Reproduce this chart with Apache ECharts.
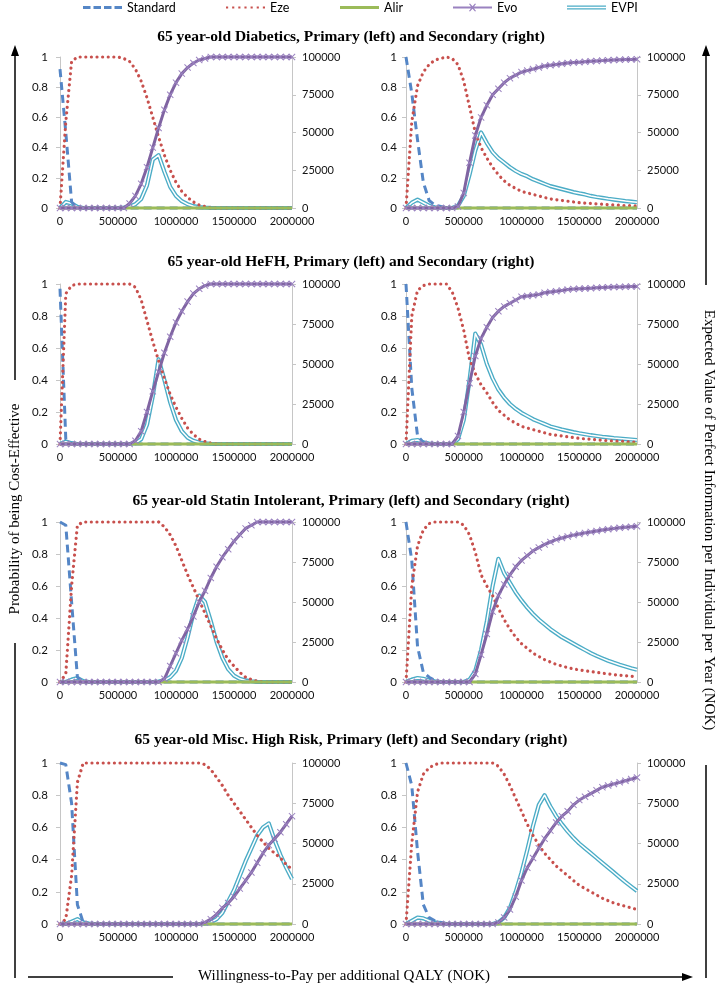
<!DOCTYPE html>
<html>
<head>
<meta charset="utf-8">
<script src="https://cdn.jsdelivr.net/npm/echarts@6/dist/echarts.min.js"></script>
<style>
html,body{margin:0;padding:0;background:#ffffff;}
#c{width:720px;height:989px;}
</style>
</head>
<body>
<div id="c"></div>
<script>
// ---------- shared axes / labels ----------
const wtp = [0,50000,100000,150000,200000,250000,300000,350000,400000,450000,
  500000,550000,600000,650000,700000,750000,800000,850000,900000,950000,
  1000000,1050000,1100000,1150000,1200000,1250000,1300000,1350000,1400000,1450000,
  1500000,1550000,1600000,1650000,1700000,1750000,1800000,1850000,1900000,1950000,
  2000000];
const xTicks = [0, 500000, 1000000, 1500000, 2000000];
const probTicks = [0, 0.2, 0.4, 0.6, 0.8, 1];
const evpiTicks = [0, 25000, 50000, 75000, 100000];
const seriesNames = ['Standard', 'Eze', 'Alir', 'Evo', 'EVPI'];
const rowTitles = [
  '65 year-old Diabetics, Primary (left) and Secondary (right)',
  '65 year-old HeFH, Primary (left) and Secondary (right)',
  '65 year-old Statin Intolerant, Primary (left) and Secondary (right)',
  '65 year-old Misc. High Risk, Primary (left) and Secondary (right)'
];
const xTitle = 'Willingness-to-Pay per additional QALY (NOK)';
const yLeftTitle = 'Probability of being Cost-Effective';
const yRightTitle = 'Expected Value of Perfect Information per Individual per Year (NOK)';

// Alir is 0 at every WTP in all panels
const alirValues = [0,0,0,0,0,0,0,0,0,0, 0,0,0,0,0,0,0,0,0,0, 0,0,0,0,0,0,0,0,0,0, 0,0,0,0,0,0,0,0,0,0, 0];

// ---------- Diabetics, primary ----------
const diabPrimStandard = [0.92,0.5,0.04,0,0,0,0,0,0,0, 0,0,0,0,0,0,0,0,0,0, 0,0,0,0,0,0,0,0,0,0, 0,0,0,0,0,0,0,0,0,0, 0];
const diabPrimEze = [0,0.57,0.97,1,1,1,1,1,1,1, 1,0.99,0.97,0.92,0.84,0.73,0.6,0.47,0.35,0.25, 0.17,0.11,0.07,0.04,0.02,0.01,0,0,0,0, 0,0,0,0,0,0,0,0,0,0, 0];
const diabPrimEvo = [0,0,0,0,0,0,0,0,0,0, 0,0,0.03,0.08,0.16,0.27,0.4,0.53,0.65,0.75, 0.83,0.89,0.93,0.96,0.98,0.99,1,1,1,1, 1,1,1,1,1,1,1,1,1,1, 1];
const diabPrimEVPI = [0,4000,3000,800,0,0,0,0,0,0, 0,200,800,2500,6000,15000,32000,35000,24000,14000, 8000,4500,2500,1200,600,300,100,0,0,0, 0,0,0,0,0,0,0,0,0,0, 0];

// ---------- Diabetics, secondary ----------
const diabSecStandard = [1,0.76,0.45,0.17,0.05,0.02,0.01,0,0,0, 0,0,0,0,0,0,0,0,0,0, 0,0,0,0,0,0,0,0,0,0, 0,0,0,0,0,0,0,0,0,0, 0];
const diabSecEze = [0,0.57,0.81,0.9,0.95,0.98,0.99,1,0.99,0.95, 0.84,0.67,0.5,0.4,0.33,0.27,0.22,0.18,0.15,0.13, 0.11,0.1,0.09,0.08,0.07,0.06,0.055,0.05,0.045,0.04, 0.035,0.032,0.03,0.027,0.025,0.022,0.02,0.018,0.016,0.015, 0.014];
const diabSecEvo = [0,0,0,0,0,0,0,0,0,0.01, 0.1,0.3,0.48,0.6,0.68,0.75,0.79,0.83,0.86,0.88, 0.9,0.91,0.92,0.93,0.94,0.945,0.95,0.955,0.96,0.963, 0.966,0.969,0.972,0.974,0.976,0.978,0.98,0.982,0.983,0.984, 0.985];
const diabSecEVPI = [0,3500,5500,3500,1500,500,200,0,0,1500, 8000,22000,38000,50000,43000,37000,33000,30000,27000,24500, 22500,21000,19000,17500,16000,14500,13500,12500,11500,10500, 9700,9000,8000,7300,6700,6100,5600,5100,4600,4200, 3800];

// ---------- HeFH, primary ----------
const hefhPrimStandard = [0.97,0.03,0,0,0,0,0,0,0,0, 0,0,0,0,0,0,0,0,0,0, 0,0,0,0,0,0,0,0,0,0, 0,0,0,0,0,0,0,0,0,0, 0];
const hefhPrimEze = [0,0.94,0.99,1,1,1,1,1,1,1, 1,1,1,0.98,0.9,0.77,0.64,0.52,0.41,0.31, 0.23,0.16,0.1,0.06,0.03,0.015,0.005,0,0,0, 0,0,0,0,0,0,0,0,0,0, 0];
const hefhPrimEvo = [0,0,0,0,0,0,0,0,0,0, 0,0,0,0.02,0.08,0.2,0.33,0.45,0.57,0.67, 0.76,0.83,0.89,0.94,0.97,0.99,1,1,1,1, 1,1,1,1,1,1,1,1,1,1, 1];
const hefhPrimEVPI = [0,1500,500,0,0,0,0,0,0,0, 0,0,0,500,3000,12000,30000,53000,40000,26000, 15000,8000,4000,2000,900,400,100,0,0,0, 0,0,0,0,0,0,0,0,0,0, 0];

// ---------- HeFH, secondary ----------
const hefhSecStandard = [1,0.35,0.05,0.01,0,0,0,0,0,0, 0,0,0,0,0,0,0,0,0,0, 0,0,0,0,0,0,0,0,0,0, 0,0,0,0,0,0,0,0,0,0, 0];
const hefhSecEze = [0,0.8,0.96,0.99,1,1,1,1,0.95,0.85, 0.71,0.53,0.44,0.37,0.32,0.26,0.21,0.18,0.15,0.13, 0.11,0.1,0.09,0.08,0.07,0.06,0.055,0.05,0.045,0.04, 0.035,0.032,0.029,0.026,0.023,0.021,0.019,0.017,0.015,0.013, 0.012];
const hefhSecEvo = [0,0,0,0,0,0,0,0,0,0.05, 0.2,0.38,0.55,0.66,0.73,0.79,0.83,0.86,0.88,0.9, 0.92,0.925,0.93,0.935,0.945,0.95,0.955,0.96,0.965,0.968, 0.97,0.972,0.974,0.976,0.978,0.98,0.981,0.982,0.983,0.984, 0.985];
const hefhSecEVPI = [0,2000,2500,1000,300,0,0,0,0,3000, 15000,40000,69000,62000,50000,41000,34000,29000,25000,22000, 19500,17500,15500,14000,12500,11000,10000,9000,8200,7400, 6700,6100,5500,5000,4500,4100,3700,3400,3100,2800, 2500];

// ---------- Statin Intolerant, primary ----------
const statPrimStandard = [1,0.98,0.5,0.03,0,0,0,0,0,0, 0,0,0,0,0,0,0,0,0,0, 0,0,0,0,0,0,0,0,0,0, 0,0,0,0,0,0,0,0,0,0, 0];
const statPrimEze = [0,0.05,0.6,0.98,1,1,1,1,1,1, 1,1,1,1,1,1,1,1,0.97,0.92, 0.85,0.76,0.67,0.59,0.51,0.43,0.35,0.27,0.2,0.14, 0.1,0.06,0.03,0.015,0.005,0,0,0,0,0, 0];
const statPrimEvo = [0,0,0,0,0,0,0,0,0,0, 0,0,0,0,0,0,0,0,0.02,0.1, 0.18,0.26,0.33,0.41,0.5,0.57,0.65,0.72,0.78,0.83, 0.88,0.92,0.96,0.98,1,1,1,1,1,1, 1];
const statPrimEVPI = [0,0,1500,2500,500,0,0,0,0,0, 0,0,0,0,0,0,0,300,1000,3000, 7000,15000,28000,43000,54000,50000,38000,25000,15000,8000, 4000,2000,1000,400,100,0,0,0,0,0, 0];

// ---------- Statin Intolerant, secondary ----------
const statSecStandard = [1,0.76,0.22,0.06,0.03,0.01,0,0,0,0, 0,0,0,0,0,0,0,0,0,0, 0,0,0,0,0,0,0,0,0,0, 0,0,0,0,0,0,0,0,0,0, 0];
const statSecEze = [0,0.6,0.85,0.95,0.99,1,1,1,1,1, 0.98,0.92,0.81,0.67,0.6,0.54,0.46,0.39,0.33,0.28, 0.24,0.21,0.18,0.16,0.14,0.125,0.11,0.1,0.09,0.082, 0.075,0.07,0.065,0.06,0.055,0.05,0.046,0.042,0.039,0.036, 0.033];
const statSecEvo = [0,0,0,0,0,0,0,0,0,0, 0,0,0.05,0.17,0.3,0.44,0.54,0.61,0.67,0.72, 0.76,0.79,0.82,0.84,0.86,0.875,0.89,0.9,0.91,0.918, 0.925,0.932,0.938,0.944,0.95,0.955,0.96,0.964,0.967,0.97, 0.973];
const statSecEVPI = [0,1500,2500,2000,1000,400,0,0,0,0, 0,1500,7000,20000,38000,60000,77000,68000,62000,56000, 51000,46500,42500,39000,36000,33000,30500,28000,26000,24000, 22000,20000,18000,16300,14800,13300,12000,10800,9700,8600, 7600];

// ---------- Misc. High Risk, primary ----------
const miscPrimStandard = [1,0.99,0.75,0.12,0.01,0,0,0,0,0, 0,0,0,0,0,0,0,0,0,0, 0,0,0,0,0,0,0,0,0,0, 0,0,0,0,0,0,0,0,0,0, 0];
const miscPrimEze = [0,0.03,0.3,0.88,1,1,1,1,1,1, 1,1,1,1,1,1,1,1,1,1, 1,1,1,1,1,0.99,0.96,0.91,0.86,0.8, 0.75,0.7,0.65,0.6,0.55,0.51,0.47,0.44,0.41,0.37, 0.34];
const miscPrimEvo = [0,0,0,0,0,0,0,0,0,0, 0,0,0,0,0,0,0,0,0,0, 0,0,0,0,0,0.01,0.03,0.06,0.1,0.13, 0.17,0.22,0.27,0.32,0.38,0.44,0.49,0.53,0.57,0.62, 0.67];
const miscPrimEVPI = [0,0,1500,3000,1000,300,0,0,0,0, 0,0,0,0,0,0,0,0,0,0, 0,0,0,0,0,300,1000,3000,7000,14000, 21000,30000,39000,47000,55000,60000,62500,52000,43000,35000, 28000];

// ---------- Misc. High Risk, secondary ----------
const miscSecStandard = [1,0.86,0.45,0.12,0.04,0.02,0.01,0,0,0, 0,0,0,0,0,0,0,0,0,0, 0,0,0,0,0,0,0,0,0,0, 0,0,0,0,0,0,0,0,0,0, 0];
const miscSecEze = [0,0.5,0.82,0.93,0.97,0.99,1,1,1,1, 1,1,1,1,1,1,0.98,0.93,0.86,0.78, 0.7,0.62,0.55,0.49,0.44,0.4,0.36,0.33,0.3,0.27, 0.24,0.22,0.2,0.18,0.16,0.145,0.13,0.12,0.11,0.1, 0.09];
const miscSecEvo = [0,0,0,0,0,0,0,0,0,0, 0,0,0,0,0,0,0.01,0.04,0.09,0.17, 0.27,0.35,0.41,0.47,0.53,0.58,0.63,0.67,0.7,0.74, 0.77,0.79,0.81,0.83,0.85,0.86,0.87,0.88,0.89,0.9, 0.91];
const miscSecEVPI = [0,2000,4000,3500,2000,1000,500,0,0,0, 0,0,0,0,0,0,1000,4000,10000,20000, 32000,46000,61000,74000,80000,73000,67000,62000,57500,53500, 50000,47000,44000,41000,38000,35000,32000,29000,26000,23200, 20500];

// ---------- panel assembly ----------
const panels = [
  {row:0, col:0, std:diabPrimStandard, eze:diabPrimEze, alir:alirValues, evo:diabPrimEvo, evpi:diabPrimEVPI},
  {row:0, col:1, std:diabSecStandard, eze:diabSecEze, alir:alirValues, evo:diabSecEvo, evpi:diabSecEVPI},
  {row:1, col:0, std:hefhPrimStandard, eze:hefhPrimEze, alir:alirValues, evo:hefhPrimEvo, evpi:hefhPrimEVPI},
  {row:1, col:1, std:hefhSecStandard, eze:hefhSecEze, alir:alirValues, evo:hefhSecEvo, evpi:hefhSecEVPI},
  {row:2, col:0, std:statPrimStandard, eze:statPrimEze, alir:alirValues, evo:statPrimEvo, evpi:statPrimEVPI},
  {row:2, col:1, std:statSecStandard, eze:statSecEze, alir:alirValues, evo:statSecEvo, evpi:statSecEVPI},
  {row:3, col:0, std:miscPrimStandard, eze:miscPrimEze, alir:alirValues, evo:miscPrimEvo, evpi:miscPrimEVPI},
  {row:3, col:1, std:miscSecStandard, eze:miscSecEze, alir:alirValues, evo:miscSecEvo, evpi:miscSecEVPI}
];

const rowLayout = [{top:57,height:151},{top:284,height:160},{top:522,height:160},{top:763,height:161}];
const colLayout = [{left:60,width:232,lm:12},{left:406,width:231,lm:9}];
const titleY = [37, 262, 501, 740];

const COL = {std:'#5586c6', eze:'#c8504d', alir:'#9bbb59', evo:'#8064a2', evoMark:'#9a82c0', evpi:'#4bacc6'};
const AXC = '#c6c6c6';
const TF = 'Lato';
const XPATH = 'path://M0,1L1,0L5,4L9,0L10,1L6,5L10,9L9,10L5,6L1,10L0,9L4,5Z';

const toPairs = arr => arr.map((v, i) => [wtp[i], v]);
const plain = v => String(v);

const grid = [], xAxis = [], yAxis = [], series = [];
panels.forEach((p, k) => {
  const r = rowLayout[p.row], c = colLayout[p.col];
  grid.push({left:c.left, width:c.width, top:r.top, height:r.height, containLabel:false, show:false});
  xAxis.push({
    type:'value', gridIndex:k, min:xTicks[0], max:xTicks[xTicks.length-1], interval:xTicks[1]-xTicks[0],
    axisLine:{show:true, onZero:false, lineStyle:{color:AXC, width:1}},
    axisTick:{show:false}, splitLine:{show:false},
    axisLabel:{margin:8, color:'#111', fontFamily:TF, fontSize:11, formatter:plain}
  });
  yAxis.push({
    type:'value', gridIndex:k, position:'left', min:probTicks[0], max:probTicks[probTicks.length-1], interval:probTicks[1]-probTicks[0],
    axisLine:{show:true, onZero:false, lineStyle:{color:AXC, width:1}},
    axisTick:{show:true, inside:false, length:4, lineStyle:{color:AXC}},
    splitLine:{show:false},
    axisLabel:{margin:c.lm, color:'#111', fontFamily:TF, fontSize:11.5, formatter:plain}
  });
  yAxis.push({
    type:'value', gridIndex:k, position:'right', min:evpiTicks[0], max:evpiTicks[evpiTicks.length-1], interval:evpiTicks[1]-evpiTicks[0],
    axisLine:{show:true, onZero:false, lineStyle:{color:AXC, width:1}},
    axisTick:{show:true, inside:false, length:4, lineStyle:{color:AXC}},
    splitLine:{show:false},
    axisLabel:{margin:10, color:'#111', fontFamily:TF, fontSize:11, formatter:plain}
  });
  const base = {type:'line', xAxisIndex:k, clip:false, silent:true, animation:false, emphasis:{disabled:true}};
  series.push(Object.assign({}, base, {name:'EVPI', yAxisIndex:2*k+1, data:toPairs(p.evpi), symbol:'none',
    lineStyle:{color:COL.evpi, width:4.2, join:'round'}, itemStyle:{color:COL.evpi}, z:2}));
  series.push(Object.assign({}, base, {name:'EVPI-core', yAxisIndex:2*k+1, data:toPairs(p.evpi), symbol:'none',
    lineStyle:{color:'#ffffff', width:1.5, join:'round'}, itemStyle:{color:'#ffffff'}, z:2}));
  series.push(Object.assign({}, base, {name:'Standard', yAxisIndex:2*k, data:toPairs(p.std), symbol:'none',
    lineStyle:{color:COL.std, width:3, type:[8,5], join:'round'}, itemStyle:{color:COL.std}, z:3}));
  series.push(Object.assign({}, base, {name:'Eze', yAxisIndex:2*k, data:toPairs(p.eze), symbol:'none',
    lineStyle:{color:COL.eze, width:3.2, type:[0.01,5.6], cap:'round', join:'round'}, itemStyle:{color:COL.eze}, z:3}));
  series.push(Object.assign({}, base, {name:'Alir', yAxisIndex:2*k, data:toPairs(p.alir), symbol:'none',
    lineStyle:{color:COL.alir, width:3}, itemStyle:{color:COL.alir}, z:3}));
  series.push(Object.assign({}, base, {name:'Evo', yAxisIndex:2*k, data:toPairs(p.evo), symbol:XPATH, symbolSize:7,
    showSymbol:true, showAllSymbol:true,
    lineStyle:{color:COL.evo, width:3, join:'round'}, itemStyle:{color:COL.evoMark}, z:4}));
});

// legend: one component per item, positioned like the original
const legendIcons = {
  Standard:'path://M0,0H7.5V3H0Z M10.5,0H18V3H10.5Z M21,0H28.5V3H21Z M31.5,0H39V3H31.5Z',
  Eze:'path://M0,0H2.2V2.2H0Z M6.3,0H8.5V2.2H6.3Z M12.6,0H14.8V2.2H12.6Z M18.9,0H21.1V2.2H18.9Z M25.2,0H27.4V2.2H25.2Z M31.5,0H33.7V2.2H31.5Z M37.8,0H40V2.2H37.8Z',
  Alir:'path://M0,0H39V3H0Z',
  Evo:'path://M0,3H39V5H0Z M16,0.5L17,0L19.5,2.8L22,0L23,0.5L20.3,4L23,7.5L22,8L19.5,5.2L17,8L16,7.5L18.7,4Z',
  EVPI:'path://M0,0H39V1.3H0Z M0,2.7H39V4H0Z'
};
const legendLeft = [83, 226, 340, 453, 567];
const legend = seriesNames.map((n, i) => ({
  data:[{name:n, icon:legendIcons[n]}], left:legendLeft[i], top:1, padding:0,
  itemWidth:39, itemHeight:14, itemGap:0, symbolKeepAspect:true, selectedMode:false,
  textStyle:{fontFamily:TF, fontSize:12.5, color:'#000'}
}));

// outer decorations
const graphic = [];
rowTitles.forEach((t, i) => {
  graphic.push({type:'text', x:351, y:titleY[i], silent:true,
    style:{text:t, font:'bold 15.5px "Liberation Serif"', fill:'#000', align:'center', verticalAlign:'middle', textAlign:'center', textVerticalAlign:'middle'}});
});
const LS = {stroke:'#000', lineWidth:1.5};
graphic.push({type:'line', shape:{x1:15, y1:52, x2:15, y2:380}, style:LS, silent:true});
graphic.push({type:'polygon', shape:{points:[[15,45],[11,56],[19,56]]}, style:{fill:'#000'}, silent:true});
graphic.push({type:'line', shape:{x1:15, y1:643, x2:15, y2:978}, style:LS, silent:true});
graphic.push({type:'text', x:15, y:509, rotation:Math.PI/2, silent:true,
  style:{text:yLeftTitle, font:'15px "Liberation Serif"', fill:'#000', align:'center', verticalAlign:'middle', textAlign:'center', textVerticalAlign:'middle'}});
graphic.push({type:'line', shape:{x1:706, y1:52, x2:706, y2:285}, style:LS, silent:true});
graphic.push({type:'polygon', shape:{points:[[706,45],[702,56],[710,56]]}, style:{fill:'#000'}, silent:true});
graphic.push({type:'line', shape:{x1:706, y1:765, x2:706, y2:978}, style:LS, silent:true});
graphic.push({type:'text', x:709, y:520, rotation:-Math.PI/2, silent:true,
  style:{text:yRightTitle, font:'15px "Liberation Serif"', fill:'#000', align:'center', verticalAlign:'middle', textAlign:'center', textVerticalAlign:'middle'}});
graphic.push({type:'line', shape:{x1:28, y1:977, x2:173, y2:977}, style:LS, silent:true});
graphic.push({type:'text', x:344, y:976, silent:true,
  style:{text:xTitle, font:'15px "Liberation Serif"', fill:'#000', align:'center', verticalAlign:'middle', textAlign:'center', textVerticalAlign:'middle'}});
graphic.push({type:'line', shape:{x1:508, y1:977, x2:684, y2:977}, style:LS, silent:true});
graphic.push({type:'polygon', shape:{points:[[693,977],[682,973],[682,981]]}, style:{fill:'#000'}, silent:true});

const chart = echarts.init(document.getElementById('c'), null, {renderer:'canvas', width:720, height:989});
chart.setOption({
  animation:false,
  backgroundColor:'#ffffff',
  grid, xAxis, yAxis, series, legend, graphic
});
</script>
</body>
</html>
